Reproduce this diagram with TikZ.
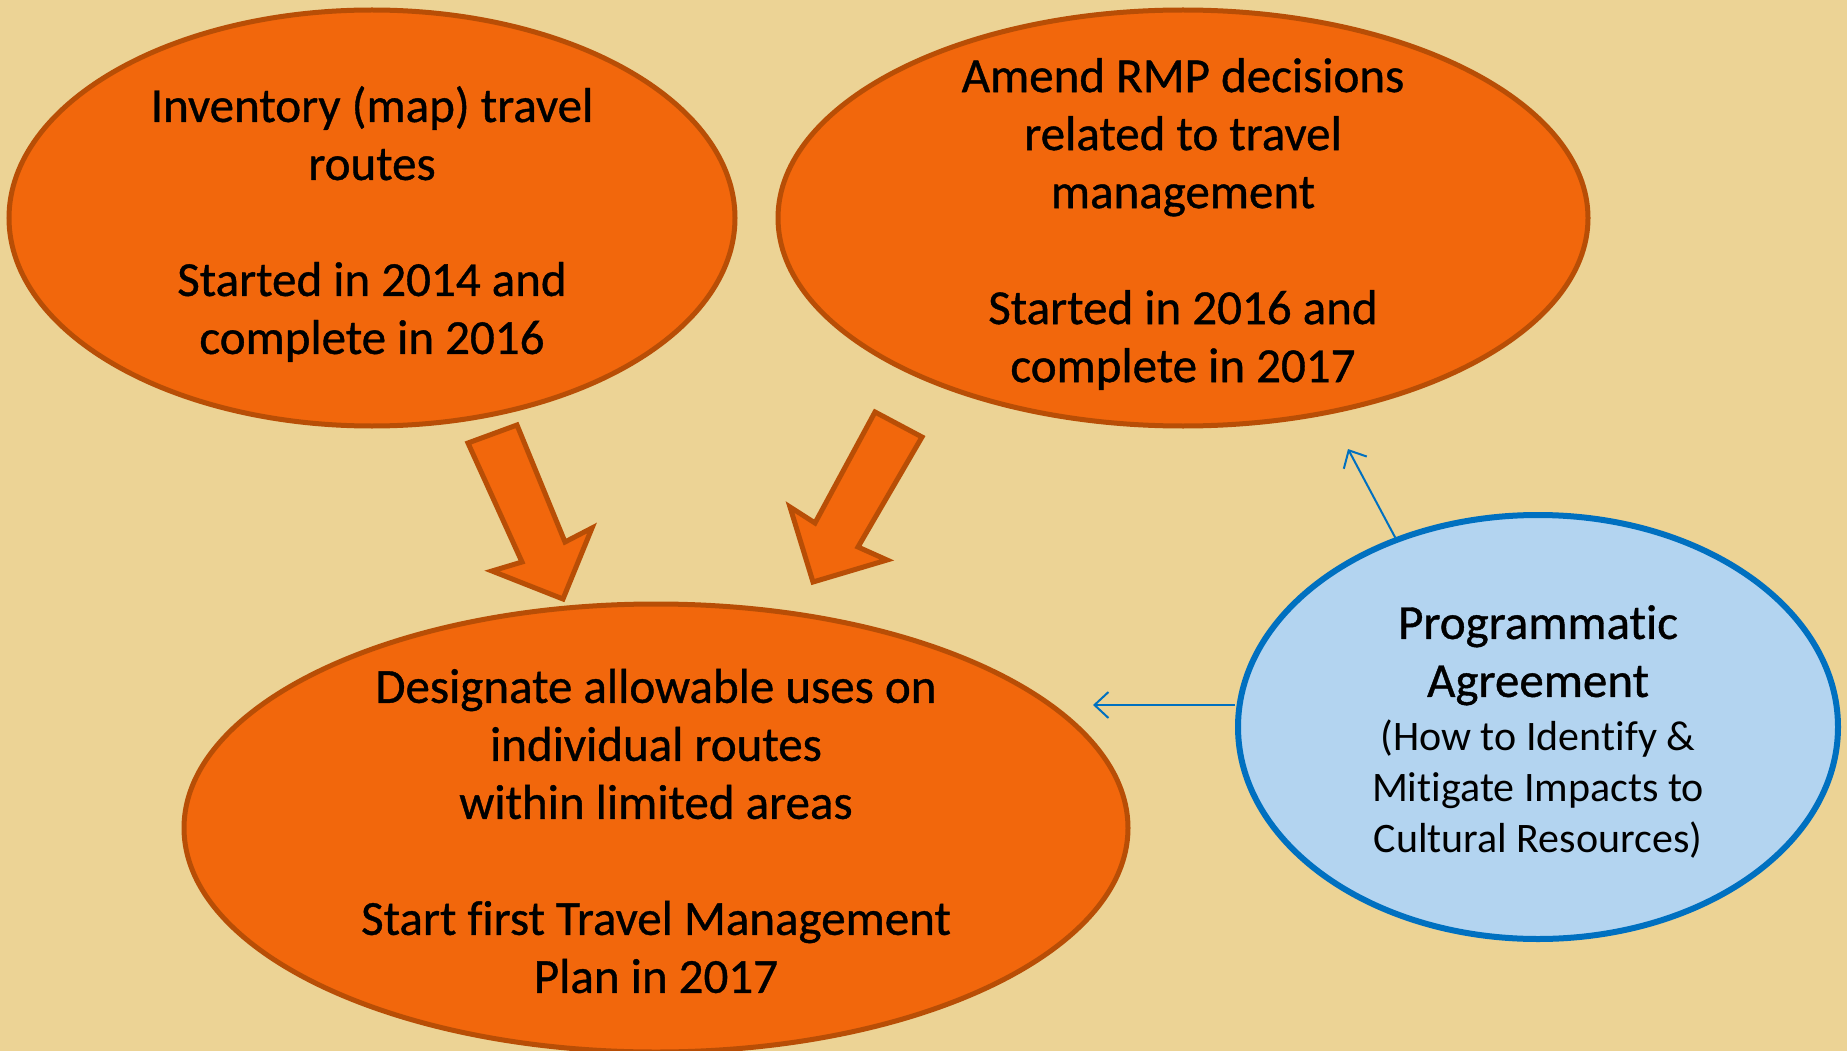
\documentclass[tikz,border=0pt]{standalone}
\usepackage{fontspec}
\setmainfont{Carlito}[Ligatures=NoCommon]
\newfontfamily\medfont{Carlito}[Ligatures=NoCommon,FakeBold=0.8]
\usetikzlibrary{shapes.geometric,arrows.meta}

\definecolor{bgtan}{RGB}{236,211,149}
\definecolor{orfill}{RGB}{242,103,12}
\definecolor{ordraw}{RGB}{184,78,6}
\definecolor{blfill}{RGB}{179,212,240}
\definecolor{bldraw}{RGB}{0,112,192}
\newcommand{\smallfont}{\normalfont\fontsize{42}{51}\selectfont}

\begin{document}
\begin{tikzpicture}[x=1pt, y=-1pt,
    bubble/.style={ellipse, draw=ordraw, fill=orfill, line width=5pt, inner sep=0pt},
    bigtext/.style={align=center, yshift=-6pt, font=\medfont\fontsize{49}{58}\selectfont},
    block/.style={draw=ordraw, fill=orfill, line width=5pt, line join=miter},
    link/.style={draw=bldraw, line width=2pt, -{Straight Barb[length=14pt,width=26pt,line width=2pt]}}]
    \fill[bgtan] (0,0) rectangle (1847,1051);
    \clip (0,0) rectangle (1847,1051);

    % the three orange steps
    \node[bubble, minimum width=726pt, minimum height=416pt,
        label={[bigtext]center:Inventory (map) travel\\routes\\[58pt]Started in 2014 and\\complete in 2016}]
        (inventory) at (372,218) {};
    \node[bubble, minimum width=810pt, minimum height=416pt,
        label={[bigtext]center:Amend RMP decisions\\related to travel\\management\\[58pt]Started in 2016 and\\complete in 2017}]
        (amend) at (1183,218) {};
    \node[bubble, minimum width=944pt, minimum height=448pt,
        label={[bigtext, yshift=3pt]center:Designate allowable uses on\\individual routes\\within limited areas\\[58pt]Start first Travel Management\\Plan in 2017}]
        (designate) at (656,828) {};

    % the agreement
    \node[ellipse, draw=bldraw, fill=blfill, line width=6pt, inner sep=0pt,
        minimum width=600pt, minimum height=424pt,
        label={[bigtext, yshift=1pt]center:Programmatic\\Agreement\\[-4pt]{\smallfont(How to Identify \&}\\[-7pt]{\smallfont Mitigate Impacts to}\\[-7pt]{\smallfont Cultural Resources)}}]
        (pa) at (1538,727) {};

    % block arrows down to the plan
    \draw[block] (468,443) -- (517,425) -- (565,542) -- (592,528) -- (563,599) -- (492,571) -- (522,562) -- cycle;
    \draw[block] (875,412) -- (922,437) -- (858,547) -- (887,560) -- (813,582) -- (790,507) -- (815,523) -- cycle;

    % thin blue links
    \coordinate (uptip) at (1348,449);
    \coordinate (lefttip) at (1093,705);
    \draw[link] (pa.127) -- (uptip);
    \draw[link] (lefttip -| pa.west) -- (lefttip);
\end{tikzpicture}
\end{document}
